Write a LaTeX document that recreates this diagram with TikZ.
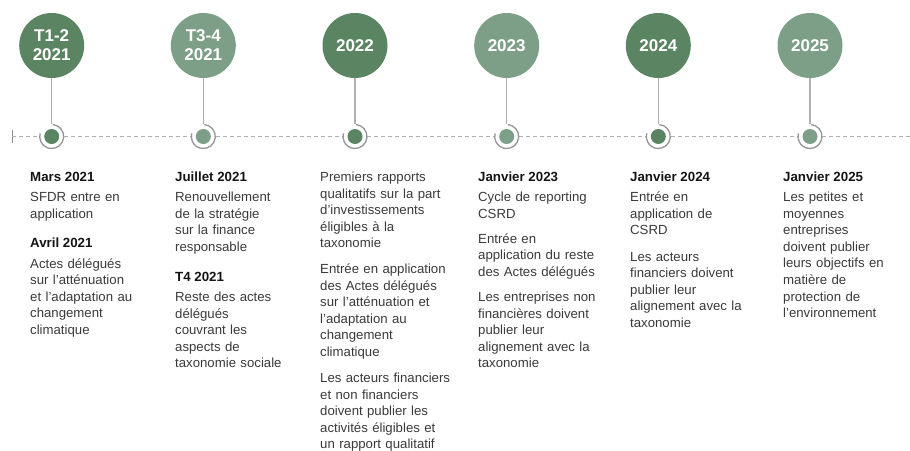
\documentclass[tikz,border=0pt]{standalone}
\usepackage{fontspec}
\setmainfont{Liberation Sans}
\definecolor{gdark}{HTML}{5B8463}
\definecolor{glight}{HTML}{7E9F87}
\definecolor{lgray}{HTML}{AFAFAF}
\definecolor{txt}{HTML}{3A3A3A}
\begin{document}
\begin{tikzpicture}[x=1pt,y=-1pt,
  yearc/.style={circle, minimum size=65pt, inner sep=0pt, text=white,
    font=\fontsize{17}{19}\selectfont\bfseries, align=center},
  dotc/.style={circle, minimum size=24pt, inner sep=0pt, fill=white},
  conn/.style={draw=lgray, line width=1.2pt},
  tline/.style={draw=lgray, line width=1pt, dash pattern=on 4pt off 3pt},
  ring/.style={draw=lgray!85!black, line width=1.3pt},
  ttl/.style={anchor=base west, inner sep=0pt, font=\fontsize{13.3}{16.6}\selectfont\bfseries, text=black!92},
  body/.style={anchor=base west, inner sep=0pt, font=\fontsize{13.2}{16.6}\selectfont, text=txt, align=left, text width=140pt},
]
\useasboundingbox (0,0) rectangle (910,450);

% year circles
\node[yearc, fill=gdark]  (c1) at (51.7,45.5)  {T1-2\\2021};
\node[yearc, fill=glight] (c2) at (203.3,45.5) {T3-4\\2021};
\node[yearc, fill=gdark]  (c3) at (355,45.5)   {2022};
\node[yearc, fill=glight] (c4) at (506.7,45.5) {2023};
\node[yearc, fill=gdark]  (c5) at (658.3,45.5) {2024};
\node[yearc, fill=glight] (c6) at (810,45.5)   {2025};

% timeline dots
\node[dotc] (d1) at (51.7,136.5)  {};
\node[dotc] (d2) at (203.3,136.5) {};
\node[dotc] (d3) at (355,136.5)   {};
\node[dotc] (d4) at (506.7,136.5) {};
\node[dotc] (d5) at (658.3,136.5) {};
\node[dotc] (d6) at (810,136.5)   {};

\coordinate (tl0) at (12,136.5);
\coordinate (tlend) at (910,136.5);
\draw[lgray!80!black, line width=1pt] (tl0) ++(0,-6.5) -- ++(0,13);
\draw[tline] (tl0) -- (d1);
\draw[tline] (d1) -- (d2);
\draw[tline] (d2) -- (d3);
\draw[tline] (d3) -- (d4);
\draw[tline] (d4) -- (d5);
\draw[tline] (d5) -- (d6);
\draw[tline] (d6) -- (tlend);

\foreach \i/\col in {1/gdark,2/glight,3/gdark,4/glight,5/gdark,6/glight}{
  \fill[\col] (d\i.center) circle (7.5);
  \draw[ring] (d\i.center) ++(-85:12) arc[start angle=-85, end angle=195, radius=12];
  \draw[conn] (c\i) -- (d\i);
}

% column 1
\node[ttl]  (t1a) at (30,181.5)   {Mars 2021};
\node[body] (t1b) at (30,201.5)   {SFDR entre en\\application};
\node[ttl]  (t1c) at (30,247.5)   {Avril 2021};
\node[body] (t1d) at (30,268) {Actes délégués\\sur l’atténuation\\et l’adaptation au\\changement\\climatique};

% column 2
\node[ttl]  (t2a) at (175,181.5) {Juillet 2021};
\node[body] (t2b) at (175,201.5) {Renouvellement\\de la stratégie\\sur la finance\\responsable};
\node[ttl]  (t2c) at (175,281.5) {T4 2021};
\node[body] (t2d) at (175,301.5) {Reste des actes\\délégués\\couvrant les\\aspects de\\taxonomie sociale};

% column 3
\node[body] (t3a) at (320,181.5)   {Premiers rapports\\qualitatifs sur la part\\d’investissements\\éligibles à la\\taxonomie};
\node[body] (t3b) at (320,273.5) {Entrée en application\\des Actes délégués\\sur l’atténuation et\\l’adaptation au\\changement\\climatique};
\node[body] (t3c) at (320,382.5)   {Les acteurs financiers\\et non financiers\\doivent publier les\\activités éligibles et\\un rapport qualitatif};

% column 4
\node[ttl]  (t4a) at (478,181.5)   {Janvier 2023};
\node[body] (t4b) at (478,201.5)   {Cycle de reporting\\CSRD};
\node[body] (t4c) at (478,243) {Entrée en\\application du reste\\des Actes délégués};
\node[body] (t4d) at (478,301.5) {Les entreprises non\\financières doivent\\publier leur\\alignement avec la\\taxonomie};

% column 5
\node[ttl]  (t5a) at (630,181.5)   {Janvier 2024};
\node[body] (t5b) at (630,201.5)   {Entrée en\\application de\\CSRD};
\node[body] (t5c) at (630,261) {Les acteurs\\financiers doivent\\publier leur\\alignement avec la\\taxonomie};

% column 6
\node[ttl]  (t6a) at (783,181.5) {Janvier 2025};
\node[body] (t6b) at (783,201.5) {Les petites et\\moyennes\\entreprises\\doivent publier\\leurs objectifs en\\matière de\\protection de\\l’environnement};
\end{tikzpicture}
\end{document}
